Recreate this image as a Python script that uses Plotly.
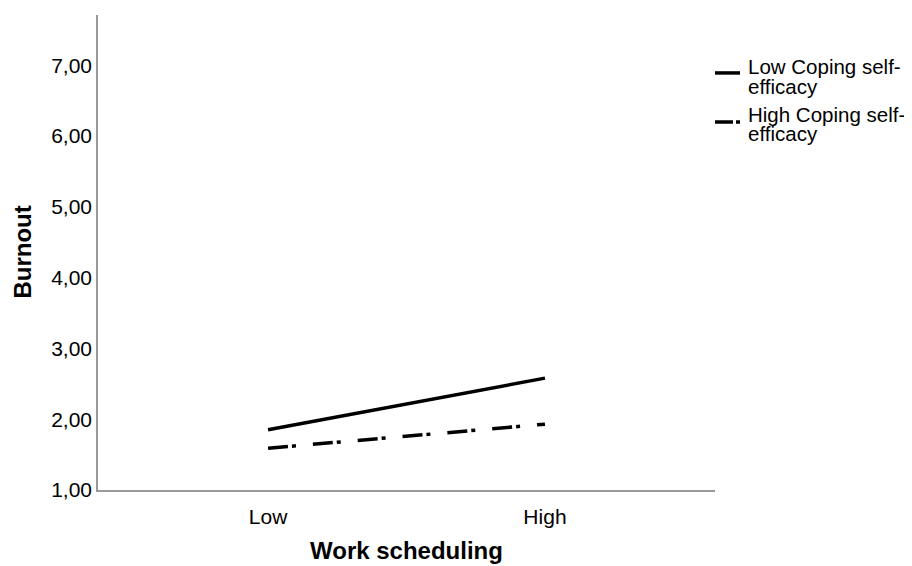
import plotly.graph_objects as go

categories = ["Low", "High"]
low_coping = [1.85, 2.58]
high_coping = [1.59, 1.93]
series_names = ["Low Coping self-efficacy", "High Coping self-efficacy"]
y_ticks = [1, 2, 3, 4, 5, 6, 7]

FONT = "Liberation Sans, Arial, sans-serif"
DASHDOT = "20px,4px,4px,17px"

fig = go.Figure()
fig.add_trace(go.Scatter(x=categories, y=low_coping, mode="lines", name=series_names[0],
                         line=dict(color="black", width=3.5), showlegend=False))
fig.add_trace(go.Scatter(x=categories, y=high_coping, mode="lines", name=series_names[1],
                         line=dict(color="black", width=3.5, dash=DASHDOT), showlegend=False))

fig.update_layout(
    width=904, height=558,
    margin=dict(l=90, r=197, t=7, b=76, autoexpand=False),
    paper_bgcolor="white", plot_bgcolor="white",
    separators=",.",
    font=dict(family=FONT, size=21, color="black"),
)
fig.update_xaxes(
    type="category", range=[-0.614, 1.614], automargin=False,
    showline=True, linecolor="#999999", linewidth=1.5,
    showgrid=False, zeroline=False, ticks="", ticklabelstandoff=7,
    tickfont=dict(size=21),
)
fig.update_yaxes(
    range=[1, 7.71], tickvals=y_ticks, tickformat=".2f", automargin=False,
    showline=True, linecolor="#999999", linewidth=1.5,
    showgrid=False, zeroline=False, ticks="", ticklabelstandoff=0,
    tickfont=dict(size=21),
)

# axis titles
fig.add_annotation(xref="paper", yref="paper", x=0.5, y=-0.128, text="<b>Work scheduling</b>",
                   showarrow=False, xanchor="center", yanchor="middle", font=dict(size=24))
fig.add_annotation(xref="paper", yref="paper", x=-0.123, y=0.5, text="<b>Burnout</b>",
                   showarrow=False, xanchor="center", yanchor="middle", textangle=-90,
                   font=dict(size=24))

# custom legend (compact line spacing as in reference)
legend_rows = [
    (0.878, "solid", series_names[0], ["Low Coping self-", "efficacy"], [0.891, 0.850]),
    (0.775, "18px,3px,4px,20px", series_names[1], ["High Coping self-", "efficacy"], [0.791, 0.750]),
]
for ly, dash, _name, lines, tys in legend_rows:
    fig.add_shape(type="line", xref="paper", yref="paper", x0=1.0, x1=1.0405, y0=ly, y1=ly,
                  line=dict(color="black", width=3.5, dash=dash))
    for txt, ty in zip(lines, tys):
        fig.add_annotation(xref="paper", yref="paper", x=1.0535, y=ty, text=txt, showarrow=False,
                           xanchor="left", yanchor="middle", xshift=-2,
                           font=dict(size=20.5, color="black"))

fig.write_html("out.html")
